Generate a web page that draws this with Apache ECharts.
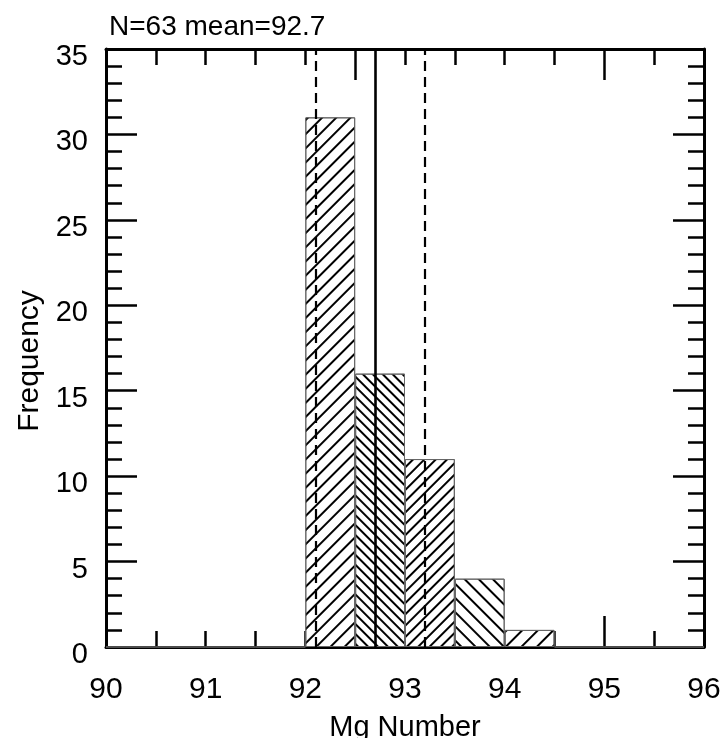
<!DOCTYPE html>
<html>
<head>
<meta charset="utf-8">
<script src="https://cdn.jsdelivr.net/npm/echarts@6/dist/echarts.min.js"></script>
<style>
html,body{margin:0;padding:0;background:#fff;}
#chart{width:721px;height:738px;}
</style>
</head>
<body>
<div id="chart"></div>
<script>
// ---- data ----
const binStarts = [90, 90.5, 91, 91.5, 92, 92.5, 93, 93.5, 94, 94.5, 95, 95.5];
const binCounts = [0, 0, 0, 0, 31, 16, 11, 4, 1, 0, 0, 0];
const meanValue = 92.7;
const lowerLine = 92.1;
const upperLine = 93.2;
const xTickValues = [90, 91, 92, 93, 94, 95, 96];
const yTickValues = [0, 5, 10, 15, 20, 25, 30, 35];
const bottomLongTicks = [95];
const topLongTicks = [92.5, 95];
const titleText = 'N=63 mean=92.7';
const xName = 'Mg Number';
const yName = 'Frequency';

// ---- styles (hatching per bin) ----
const hatch = {
  4: {dir: -1, gap: 7.2},
  5: {dir: 1, gap: 4.8},
  6: {dir: -1, gap: 5.2},
  7: {dir: 1, gap: 7.6},
  8: {dir: -1, gap: 8.6}
};

const FONT = '"Liberation Sans", Arial, sans-serif';

const barData = binCounts.map((v, i) => {
  const h = hatch[i];
  const item = {value: v};
  if (h) {
    item.itemStyle = {
      decal: {
        symbol: 'rect',
        symbolSize: 1,
        color: '#000',
        dashArrayX: [1, 0],
        dashArrayY: [2, h.gap],
        rotation: h.dir * Math.PI / 4
      }
    };
  }
  return item;
});

const axisLine = {show: true, lineStyle: {color: '#000', width: 3}};
const tickStyle = {color: '#000', width: 2.5};
const xMin = xTickValues[0], xMax = xTickValues[xTickValues.length - 1];
const yMin = yTickValues[0], yMax = yTickValues[yTickValues.length - 1];

function longTickAxis(position, values) {
  return {
    type: 'value', position: position, min: xMin, max: xMax, interval: 0.5,
    axisLine: {show: false},
    axisTick: {show: true, inside: true, length: 31, customValues: values, lineStyle: tickStyle},
    axisLabel: {show: false}, splitLine: {show: false}
  };
}

const chart = echarts.init(document.getElementById('chart'), null, {renderer: 'canvas'});
chart.setOption({
  animation: false,
  backgroundColor: '#fff',
  title: {
    text: titleText, left: 104, top: 8,
    textStyle: {fontFamily: FONT, fontSize: 28, fontWeight: 'normal', color: '#000'}
  },
  grid: {left: 106, right: 17, top: 49, bottom: 91, outerBoundsMode: 'none', containLabel: false},
  xAxis: [
    {type: 'category', data: binStarts.map(String), show: false, boundaryGap: true},
    {
      type: 'value', position: 'bottom', min: xMin, max: xMax, interval: 0.5,
      axisLine: axisLine,
      axisTick: {show: true, inside: true, length: 16, lineStyle: tickStyle},
      splitLine: {show: false},
      axisLabel: {
        show: true, margin: 28, color: '#000', fontFamily: FONT, fontSize: 30,
        formatter: v => (Number.isInteger(v) ? String(v) : '')
      },
      name: xName, nameLocation: 'middle', nameGap: 66,
      nameTextStyle: {fontFamily: FONT, fontSize: 29, color: '#000'}
    },
    {
      type: 'value', position: 'top', min: xMin, max: xMax, interval: 0.5,
      axisLine: axisLine,
      axisTick: {show: true, inside: true, length: 16, lineStyle: tickStyle},
      splitLine: {show: false}, axisLabel: {show: false}
    },
    longTickAxis('bottom', bottomLongTicks),
    longTickAxis('top', topLongTicks)
  ],
  yAxis: [
    {
      type: 'value', position: 'left', min: yMin, max: yMax, interval: 5,
      axisLine: axisLine,
      axisTick: {show: true, inside: true, length: 31, lineStyle: tickStyle},
      minorTick: {show: true, splitNumber: 5, length: 16, lineStyle: tickStyle},
      splitLine: {show: false}, minorSplitLine: {show: false},
      axisLabel: {show: true, margin: 18, color: '#000', fontFamily: FONT, fontSize: 29,
        verticalAlign: 'top', lineHeight: 16},
      name: yName, nameLocation: 'middle', nameGap: 54,
      nameTextStyle: {fontFamily: FONT, fontSize: 30, color: '#000', padding: [0, 26, 0, 0]}
    },
    {
      type: 'value', position: 'right', min: yMin, max: yMax, interval: 5,
      axisLine: axisLine,
      axisTick: {show: true, inside: true, length: 31, lineStyle: tickStyle},
      minorTick: {show: true, splitNumber: 5, length: 16, lineStyle: tickStyle},
      splitLine: {show: false}, axisLabel: {show: false}
    }
  ],
  series: [
    {
      type: 'bar', xAxisIndex: 0, yAxisIndex: 0, barCategoryGap: '0%',
      data: barData,
      itemStyle: {color: '#fff', borderColor: '#666', borderWidth: 1},
      z: 2
    },
    {
      type: 'line', xAxisIndex: 1, yAxisIndex: 0, data: [], silent: true,
      markLine: {
        silent: true, symbol: 'none', label: {show: false},
        data: [
          {xAxis: lowerLine, lineStyle: {color: '#000', width: 2.2, type: [10, 6]}},
          {xAxis: meanValue, lineStyle: {color: '#000', width: 2.6, type: 'solid'}},
          {xAxis: upperLine, lineStyle: {color: '#000', width: 2.2, type: [10, 6]}}
        ]
      },
      z: 5
    }
  ]
});
</script>
</body>
</html>
